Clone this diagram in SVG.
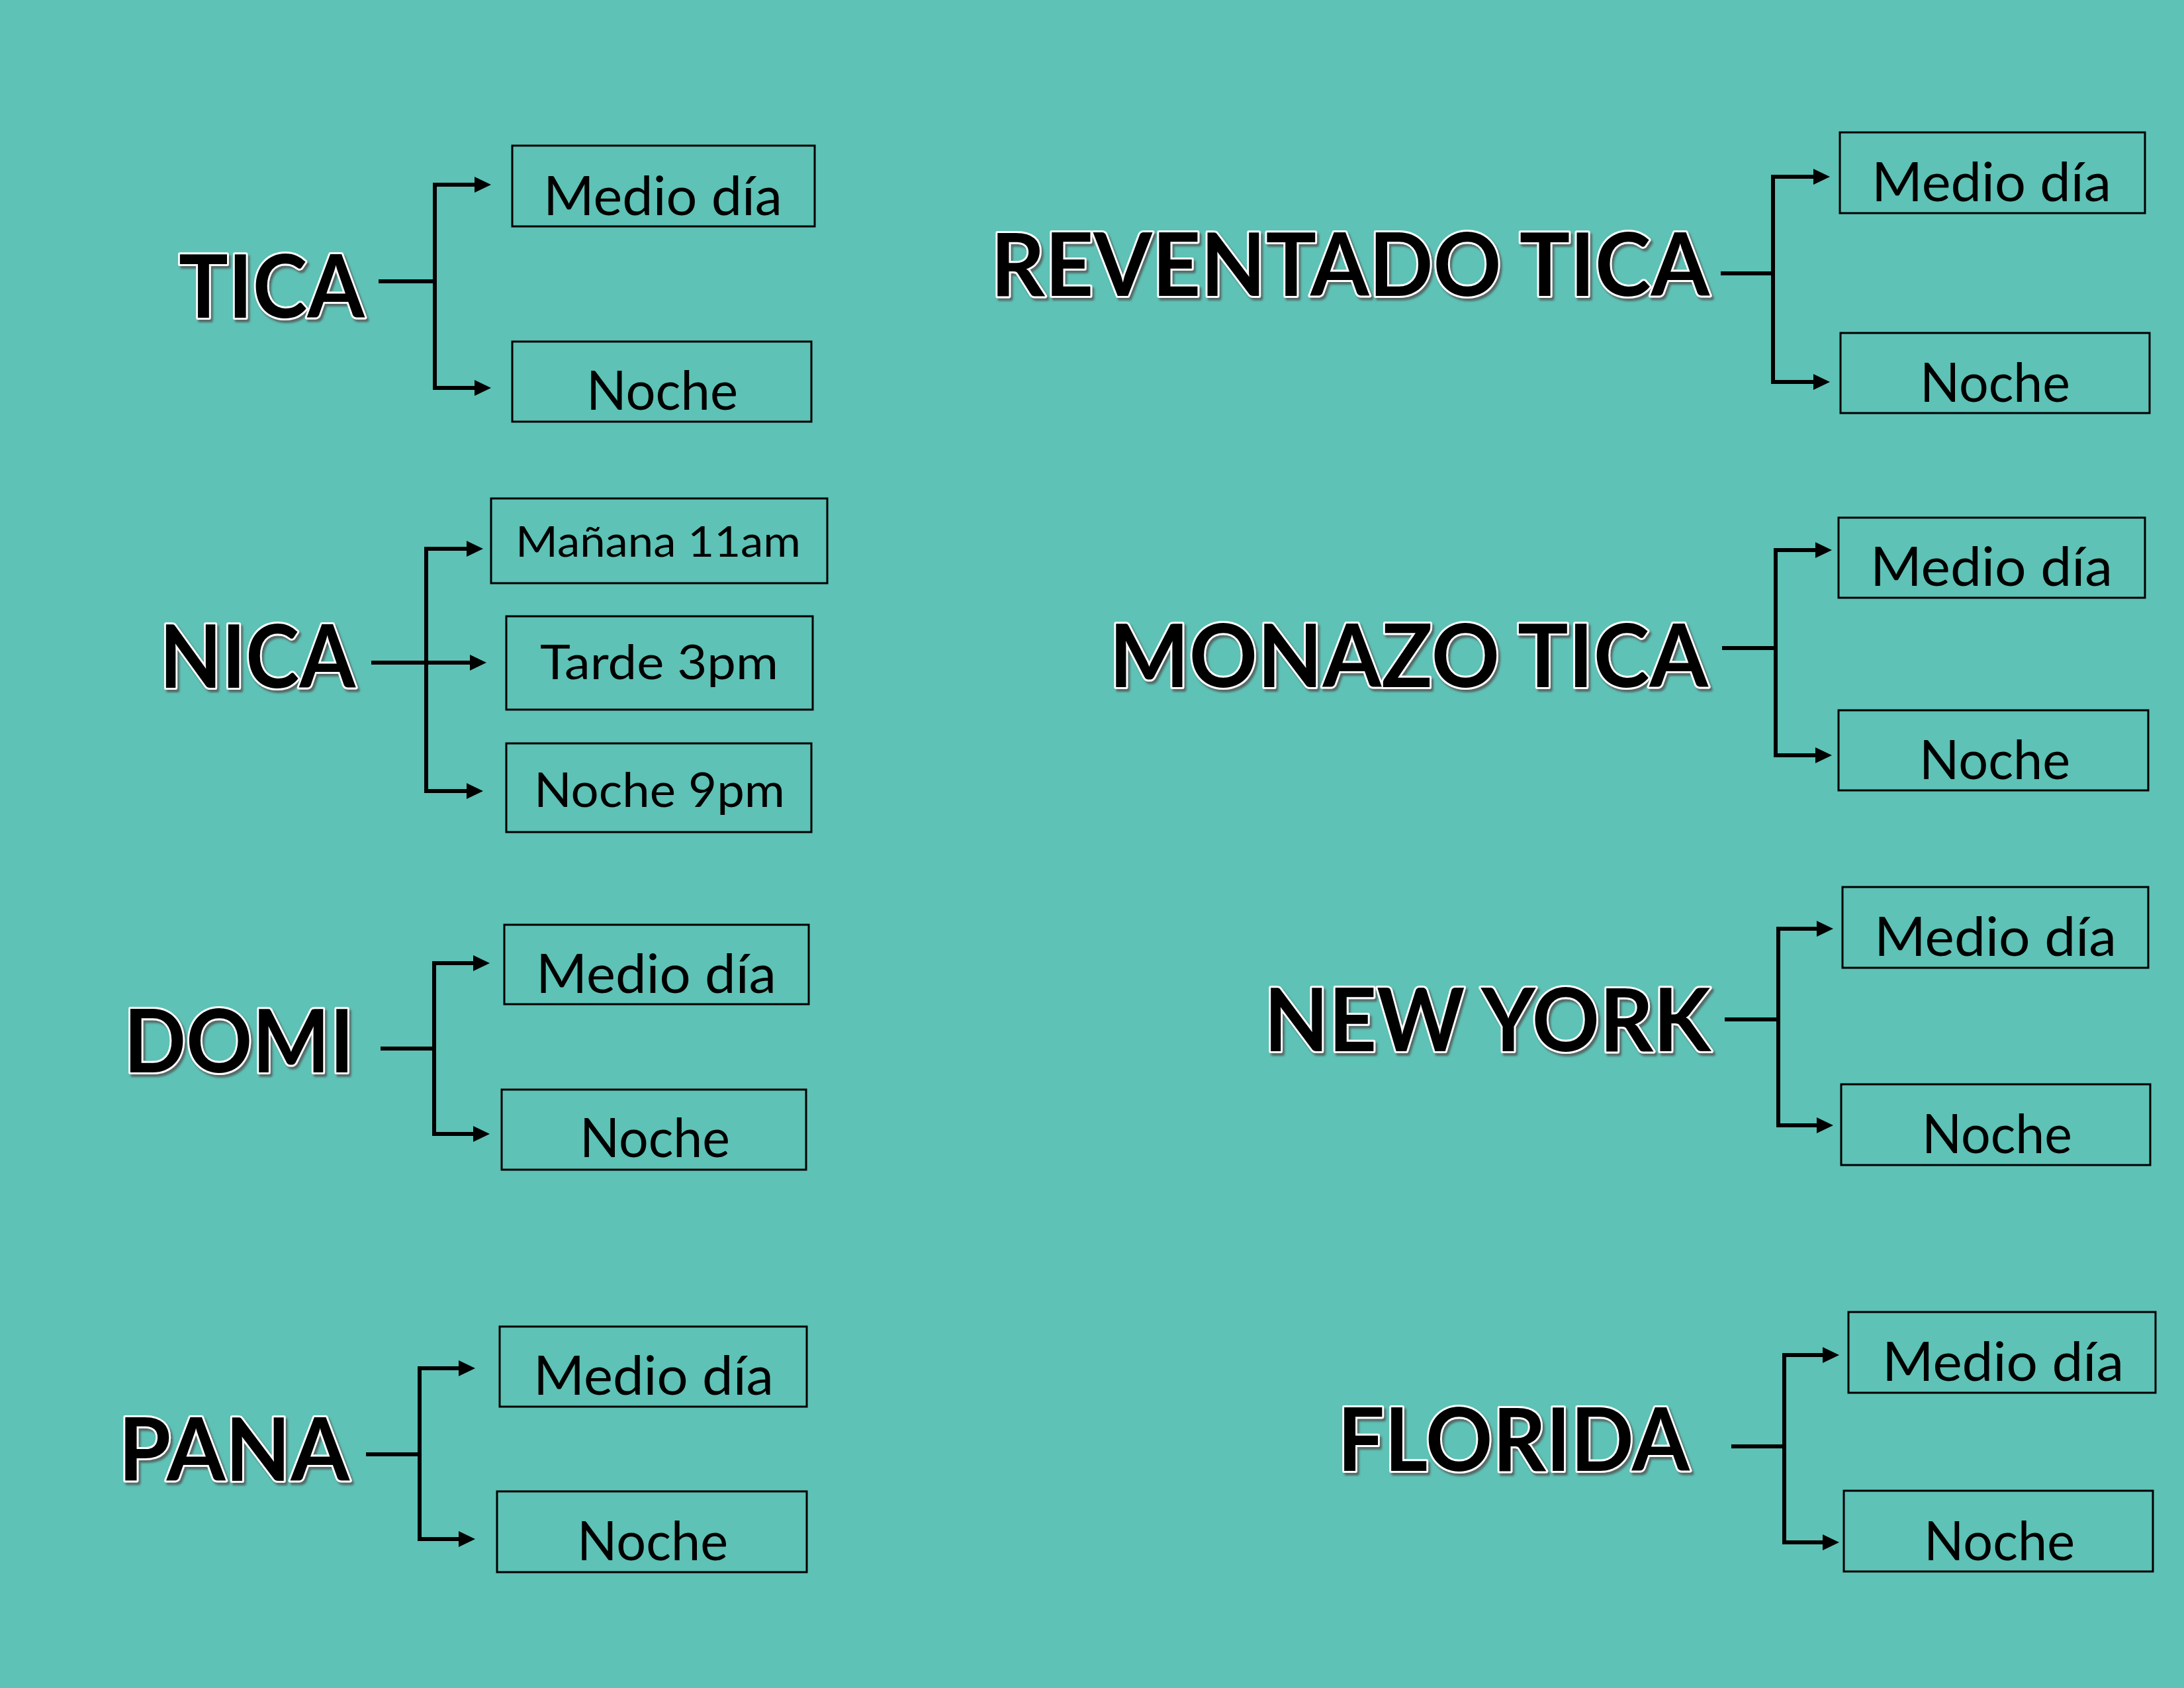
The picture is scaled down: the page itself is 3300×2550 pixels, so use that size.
<svg xmlns="http://www.w3.org/2000/svg" width="3300" height="2550" viewBox="0 0 3300 2550">
<style>
.bg{fill:#5EC2B6}
.t{font-family:Lato,"Liberation Sans",sans-serif;font-weight:700;font-size:133px;fill:#000;stroke:#fff;stroke-width:6px;stroke-linejoin:round;paint-order:stroke;filter:url(#sh)}
.l{font-family:Lato,"Liberation Sans",sans-serif;font-weight:400;fill:#000}
.m{font-size:81px}
.s{font-size:64px}
.n{font-size:72px}
.box{fill:none;stroke:#000;stroke-width:3}
.c{fill:none;stroke:#000;stroke-width:6}
.a{marker-end:url(#ah)}
.a2{marker-start:url(#ah);marker-end:url(#ah)}
</style>
<defs>
<marker id="ah" markerUnits="userSpaceOnUse" viewBox="0 0 25 24" markerWidth="25" markerHeight="24" refX="0" refY="12" orient="auto-start-reverse">
<path d="M0,0 L25,12 L0,24 z" fill="#000"/>
</marker>
<filter id="sh" x="-10%" y="-20%" width="130%" height="150%">
<feDropShadow dx="3" dy="4" stdDeviation="1.5" flood-color="#555" flood-opacity="0.8"/>
</filter>
</defs>
<rect class="bg" x="0" y="0" width="3300" height="2550"/>

<g id="connectors">
<!-- TICA -->
<path class="c" d="M572,425 H657"/>
<path class="c a2" d="M717,279 H657 V586 H717"/>
<!-- NICA -->
<path class="c a" d="M561,1001 H710"/>
<path class="c a2" d="M705,829 H644 V1195 H705"/>
<!-- DOMI -->
<path class="c" d="M575,1584 H656"/>
<path class="c a2" d="M715,1455 H656 V1713 H715"/>
<!-- PANA -->
<path class="c" d="M553,2197 H634"/>
<path class="c a2" d="M693,2067 H634 V2325 H693"/>
<!-- REVENTADO TICA -->
<path class="c" d="M2600,413 H2679"/>
<path class="c a2" d="M2740,267 H2679 V577 H2740"/>
<!-- MONAZO TICA -->
<path class="c" d="M2602,979 H2683"/>
<path class="c a2" d="M2743,831 H2683 V1141 H2743"/>
<!-- NEW YORK -->
<path class="c" d="M2606,1540 H2687"/>
<path class="c a2" d="M2745,1403 H2687 V1700 H2745"/>
<!-- FLORIDA -->
<path class="c" d="M2616,2185 H2696"/>
<path class="c a2" d="M2754,2047 H2696 V2330 H2754"/>
</g>

<g id="tica">
<text class="t" x="270" y="480" textLength="281" lengthAdjust="spacingAndGlyphs">TICA</text>
</g>
<g id="tica-medio">
<rect class="box" x="774" y="220" width="457" height="122"/>
<text class="l m" x="821" y="325" textLength="361" lengthAdjust="spacingAndGlyphs">Medio día</text>
</g>
<g id="tica-noche">
<rect class="box" x="774" y="516" width="452" height="121"/>
<text class="l m" x="886" y="619" textLength="229" lengthAdjust="spacingAndGlyphs">Noche</text>
</g>

<g id="nica">
<text class="t" x="241" y="1039" textLength="296" lengthAdjust="spacingAndGlyphs">NICA</text>
</g>
<g id="nica-manana">
<rect class="box" x="742" y="753" width="508" height="128"/>
<text class="l s" x="779" y="841" textLength="431" lengthAdjust="spacingAndGlyphs">Mañana 11am</text>
</g>
<g id="nica-tarde">
<rect class="box" x="765" y="931" width="463" height="141"/>
<text class="l n" x="816" y="1026" textLength="360" lengthAdjust="spacingAndGlyphs">Tarde 3pm</text>
</g>
<g id="nica-noche">
<rect class="box" x="765" y="1123" width="461" height="134"/>
<text class="l n" x="807" y="1219" textLength="379" lengthAdjust="spacingAndGlyphs">Noche 9pm</text>
</g>

<g id="domi">
<text class="t" x="187" y="1620" textLength="348" lengthAdjust="spacingAndGlyphs">DOMI</text>
</g>
<g id="domi-medio">
<rect class="box" x="762" y="1397" width="460" height="120"/>
<text class="l m" x="810" y="1500" textLength="363" lengthAdjust="spacingAndGlyphs">Medio día</text>
</g>
<g id="domi-noche">
<rect class="box" x="758" y="1646" width="460" height="121"/>
<text class="l m" x="876" y="1748" textLength="227" lengthAdjust="spacingAndGlyphs">Noche</text>
</g>

<g id="pana">
<text class="t" x="179" y="2237" textLength="349" lengthAdjust="spacingAndGlyphs">PANA</text>
</g>
<g id="pana-medio">
<rect class="box" x="755" y="2004" width="464" height="121"/>
<text class="l m" x="806" y="2107" textLength="363" lengthAdjust="spacingAndGlyphs">Medio día</text>
</g>
<g id="pana-noche">
<rect class="box" x="751" y="2253" width="468" height="122"/>
<text class="l m" x="872" y="2357" textLength="228" lengthAdjust="spacingAndGlyphs">Noche</text>
</g>

<g id="reventado">
<text class="t" x="1497" y="447" textLength="1086" lengthAdjust="spacingAndGlyphs">REVENTADO TICA</text>
</g>
<g id="reventado-medio">
<rect class="box" x="2780" y="200" width="461" height="122"/>
<text class="l m" x="2828" y="304" textLength="362" lengthAdjust="spacingAndGlyphs">Medio día</text>
</g>
<g id="reventado-noche">
<rect class="box" x="2781" y="503" width="467" height="121"/>
<text class="l m" x="2901" y="607" textLength="227" lengthAdjust="spacingAndGlyphs">Noche</text>
</g>

<g id="monazo">
<text class="t" x="1676" y="1038" textLength="905" lengthAdjust="spacingAndGlyphs">MONAZO TICA</text>
</g>
<g id="monazo-medio">
<rect class="box" x="2778" y="782" width="463" height="121"/>
<text class="l m" x="2826" y="885" textLength="366" lengthAdjust="spacingAndGlyphs">Medio día</text>
</g>
<g id="monazo-noche">
<rect class="box" x="2778" y="1073" width="468" height="121"/>
<text class="l m" x="2900" y="1177" textLength="228" lengthAdjust="spacingAndGlyphs">Noche</text>
</g>

<g id="newyork">
<text class="t" x="1910" y="1588" textLength="675" lengthAdjust="spacingAndGlyphs">NEW YORK</text>
</g>
<g id="newyork-medio">
<rect class="box" x="2784" y="1340" width="462" height="122"/>
<text class="l m" x="2832" y="1444" textLength="366" lengthAdjust="spacingAndGlyphs">Medio día</text>
</g>
<g id="newyork-noche">
<rect class="box" x="2782" y="1638" width="467" height="122"/>
<text class="l m" x="2904" y="1742" textLength="227" lengthAdjust="spacingAndGlyphs">Noche</text>
</g>

<g id="florida">
<text class="t" x="2021" y="2222" textLength="532" lengthAdjust="spacingAndGlyphs">FLORIDA</text>
</g>
<g id="florida-medio">
<rect class="box" x="2793" y="1982" width="464" height="122"/>
<text class="l m" x="2844" y="2086" textLength="365" lengthAdjust="spacingAndGlyphs">Medio día</text>
</g>
<g id="florida-noche">
<rect class="box" x="2786" y="2252" width="467" height="122"/>
<text class="l m" x="2907" y="2357" textLength="228" lengthAdjust="spacingAndGlyphs">Noche</text>
</g>
</svg>
